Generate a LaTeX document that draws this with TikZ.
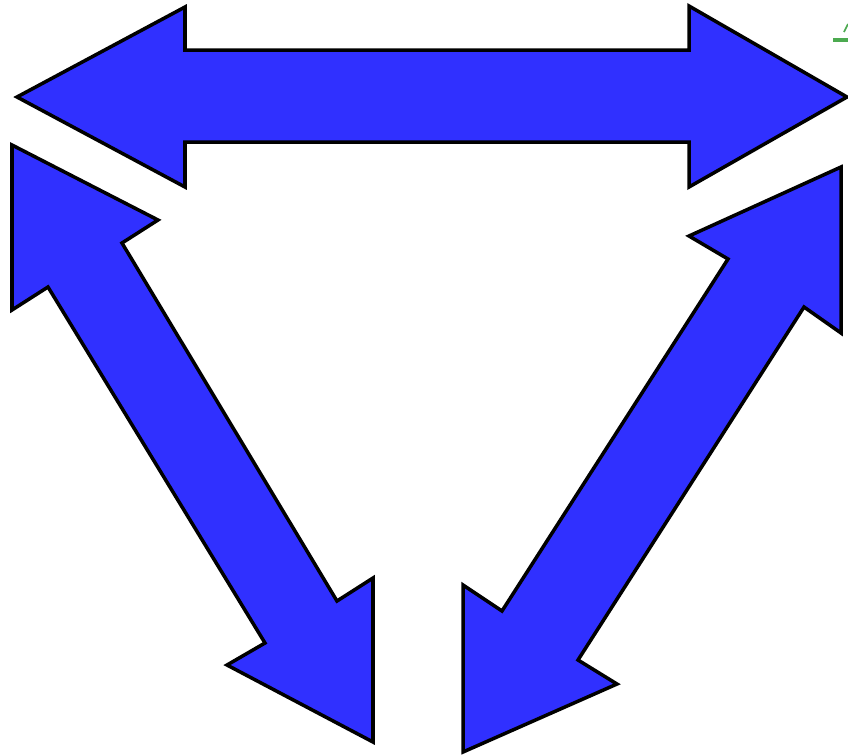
\documentclass[tikz,border=0pt]{standalone}
\usepackage{tikz}
\definecolor{arrowblue}{RGB}{48,48,255}
\definecolor{linkgreen}{RGB}{76,170,80}

\begin{document}
\begin{tikzpicture}[
    x=0.02cm, y=-0.02cm,
    blockarrow/.style={draw=black, fill=arrowblue, line width=2pt, line join=miter, miter limit=10},
    fragment/.style={draw=linkgreen, line width=2pt}
]
    % Frame of the picture (pixel grid, y downwards)
    \useasboundingbox (0,0) rectangle (848,755);

    % Top double arrow (horizontal)
    \draw[blockarrow] (17,97) -- (185,7) -- (185,50) -- (689,50) -- (689,6) -- (847,97)
        -- (689,187) -- (689,142) -- (185,142) -- (185,187) -- cycle;

    % Left double arrow (down to the right)
    \draw[blockarrow] (12,145) -- (158,220) -- (122,243) -- (337,601) -- (373,578) -- (373,742)
        -- (227,665) -- (265,643) -- (48,287) -- (12,310) -- cycle;

    % Right double arrow (down to the left)
    \draw[blockarrow] (841,167) -- (841,333) -- (804,307) -- (578,660) -- (617,684) -- (463,752)
        -- (463,585) -- (502,611) -- (728,259) -- (689,236) -- cycle;

    % Cut-off green mark at the top right edge
    \draw[fragment] (833,40) -- (848,40);
    \draw[fragment, line width=1pt] (844,32) -- (848,24);
\end{tikzpicture}
\end{document}
